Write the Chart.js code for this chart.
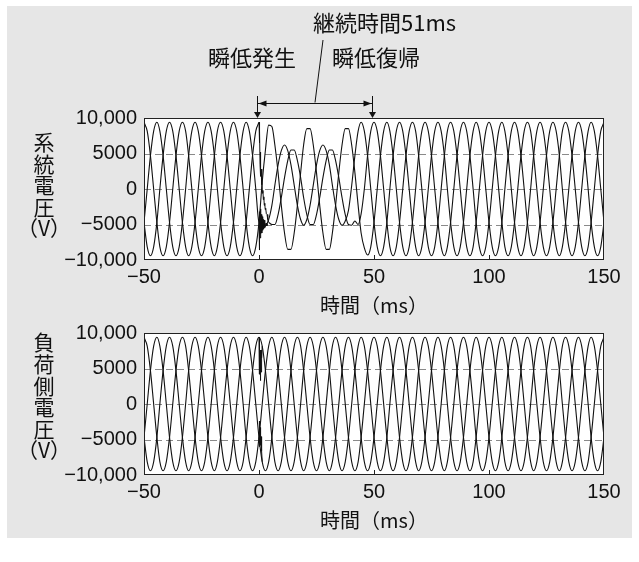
<!DOCTYPE html>
<html>
<head>
<meta charset="utf-8">
<script src="https://cdn.jsdelivr.net/npm/chart.js@4.4.1/dist/chart.umd.min.js"></script>
<style>
  html, body { margin: 0; padding: 0; background: #fff; }
  #page { position: relative; width: 639px; height: 562px; overflow: hidden; }
  #panel { position: absolute; left: 7px; top: 6px; width: 625px; height: 532px; background: #e6e6e6; }
  canvas { position: absolute; left: 0; }
  #sysChart { top: 0; }
  #loadChart { top: 290px; }
</style>
</head>
<body>
<div id="page">
  <div id="panel"></div>
  <canvas id="sysChart" width="639" height="320"></canvas>
  <canvas id="loadChart" width="639" height="245"></canvas>
</div>
<script>
// sample times (ms), 12 samples per 60 Hz cycle
const timeMs = [
  -50, -48.6, -47.2, -45.8, -44.4, -43.1, -41.7, -40.3, -38.9, -37.5, -36.1, -34.7,
  -33.3, -31.9, -30.6, -29.2, -27.8, -26.4, -25, -23.6, -22.2, -20.8, -19.4, -18.1,
  -16.7, -15.3, -13.9, -12.5, -11.1, -9.7, -8.3, -6.9, -5.6, -4.2, -2.8, -1.4,
  0, 1.4, 2.8, 4.2, 5.6, 6.9, 8.3, 9.7, 11.1, 12.5, 13.9, 15.3,
  16.7, 18.1, 19.4, 20.8, 22.2, 23.6, 25, 26.4, 27.8, 29.2, 30.6, 31.9,
  33.3, 34.7, 36.1, 37.5, 38.9, 40.3, 41.7, 43.1, 44.4, 45.8, 47.2, 48.6,
  50, 51.4, 52.8, 54.2, 55.6, 56.9, 58.3, 59.7, 61.1, 62.5, 63.9, 65.3,
  66.7, 68.1, 69.4, 70.8, 72.2, 73.6, 75, 76.4, 77.8, 79.2, 80.6, 81.9,
  83.3, 84.7, 86.1, 87.5, 88.9, 90.3, 91.7, 93.1, 94.4, 95.8, 97.2, 98.6,
  100, 101.4, 102.8, 104.2, 105.6, 106.9, 108.3, 109.7, 111.1, 112.5, 113.9, 115.3,
  116.7, 118.1, 119.4, 120.8, 122.2, 123.6, 125, 126.4, 127.8, 129.2, 130.6, 131.9,
  133.3, 134.7, 136.1, 137.5, 138.9, 140.3, 141.7, 143.1, 144.4, 145.8, 147.2, 148.6,
  150
];

// system side voltage (V), three phases
const sysA = [
  9400, 8140, 4700, 0, -4700, -8140, -9400, -8140, -4700, 0, 4700, 8140,
  9400, 8140, 4700, 0, -4700, -8140, -9400, -8140, -4700, 0, 4700, 8140,
  9400, 8140, 4700, 0, -4700, -8140, -9400, -8140, -4700, 0, 4700, 8140,
  9400, null, null, -4700, -5000, -5000, -3600, -1200, 1600, 4000, 5500, 5500,
  4000, 1600, -1200, -3600, -5000, -5000, -3600, -1200, 1600, 4000, 5500, 5500,
  4000, 1600, -1200, -3600, -5000, -5100, -4500, -5000, -3500, 0, 4700, 8140,
  9400, 8140, 4700, 0, -4700, -8140, -9400, -8140, -4700, 0, 4700, 8140,
  9400, 8140, 4700, 0, -4700, -8140, -9400, -8140, -4700, 0, 4700, 8140,
  9400, 8140, 4700, 0, -4700, -8140, -9400, -8140, -4700, 0, 4700, 8140,
  9400, 8140, 4700, 0, -4700, -8140, -9400, -8140, -4700, 0, 4700, 8140,
  9400, 8140, 4700, 0, -4700, -8140, -9400, -8140, -4700, 0, 4700, 8140,
  9400, 8140, 4700, 0, -4700, -8140, -9400, -8140, -4700, 0, 4700, 8140,
  9400
];
const sysB = [
  -4700, 0, 4700, 8140, 9400, 8140, 4700, 0, -4700, -8140, -9400, -8140,
  -4700, 0, 4700, 8140, 9400, 8140, 4700, 0, -4700, -8140, -9400, -8140,
  -4700, 0, 4700, 8140, 9400, 8140, 4700, 0, -4700, -8140, -9400, -8140,
  -4700, 1000, 5500, 9000, 8800, 6200, 2300, -2300, -6200, -8500, -8500, -6200,
  -2300, 2300, 6200, 8500, 8500, 6200, 2300, -2300, -6200, -8500, -8500, -6200,
  -2300, 2300, 6200, 8500, 8500, 6200, 2300, -2300, -6200, -8300, -9300, -8140,
  -4700, 0, 4700, 8140, 9400, 8140, 4700, 0, -4700, -8140, -9400, -8140,
  -4700, 0, 4700, 8140, 9400, 8140, 4700, 0, -4700, -8140, -9400, -8140,
  -4700, 0, 4700, 8140, 9400, 8140, 4700, 0, -4700, -8140, -9400, -8140,
  -4700, 0, 4700, 8140, 9400, 8140, 4700, 0, -4700, -8140, -9400, -8140,
  -4700, 0, 4700, 8140, 9400, 8140, 4700, 0, -4700, -8140, -9400, -8140,
  -4700, 0, 4700, 8140, 9400, 8140, 4700, 0, -4700, -8140, -9400, -8140,
  -4700
];
const sysC = [
  -4700, -8140, -9400, -8140, -4700, 0, 4700, 8140, 9400, 8140, 4700, 0,
  -4700, -8140, -9400, -8140, -4700, 0, 4700, 8140, 9400, 8140, 4700, 0,
  -4700, -8140, -9400, -8140, -4700, 0, 4700, 8140, 9400, 8140, 4700, 0,
  -4700, -5000, -5100, -4300, -2300, 550, 3400, 5400, 6200, 5400, 3400, 550,
  -2300, -4300, -5100, -4300, -2300, 550, 3400, 5400, 6200, 5400, 3400, 550,
  -2300, -4300, -5100, -4500, -3000, 500, 4700, 8140, 9400, 8140, 4700, 0,
  -4700, -8140, -9400, -8140, -4700, 0, 4700, 8140, 9400, 8140, 4700, 0,
  -4700, -8140, -9400, -8140, -4700, 0, 4700, 8140, 9400, 8140, 4700, 0,
  -4700, -8140, -9400, -8140, -4700, 0, 4700, 8140, 9400, 8140, 4700, 0,
  -4700, -8140, -9400, -8140, -4700, 0, 4700, 8140, 9400, 8140, 4700, 0,
  -4700, -8140, -9400, -8140, -4700, 0, 4700, 8140, 9400, 8140, 4700, 0,
  -4700, -8140, -9400, -8140, -4700, 0, 4700, 8140, 9400, 8140, 4700, 0,
  -4700
];

// switching transient right after the sag starts (system side)
const sysBurstTimeA = [0, 0.15, 0.3, 0.45, 0.6, 0.75, 0.9, 1.1, 1.3, 1.5, 1.7, 1.9, 2.1, 2.3, 2.5, 2.7, 2.9, 3.2, 3.5, 3.8, 4.2];
const sysBurstA = [9400, 6500, 8200, 3500, 5200, 1800, 2800, 600, 1200, -600, -200, -1500, -1100, -2300, -2000, -2900, -2700, -3500, -3600, -4300, -4700];
const sysBurstTimeC = [0, 0.1, 0.2, 0.35, 0.5, 0.65, 0.8, 1.0, 1.2, 1.4, 1.6, 1.8, 2.0, 2.2, 2.4, 2.6, 2.8, 3.1, 3.4, 3.7];
const sysBurstC = [-4700, -6800, -8600, -3200, -6900, -2800, -6300, -3600, -6200, -3900, -5800, -4300, -5600, -4400, -5500, -4700, -5300, -4800, -5200, -4900];

// load side voltage (V)
const loadA = sysA.slice(0, 36).concat([
  9400, 8140, 4700, 0, -4700, -8140, -9400, -8140, -4700, 0, 4700, 8140,
  9400, 8140, 4700, 0, -4700, -8140, -9400, -8140, -4700, 0, 4700, 8140,
  9400, 8140, 4700, 0, -4700, -8140, -9400, -8140, -4700, 0, 4700, 8140
]).concat(sysA.slice(72));
const loadB = sysB.slice(0, 36).concat([
  -4700, 0, 4700, 8140, 9400, 8140, 4700, 0, -4700, -8140, -9400, -8140,
  -4700, 0, 4700, 8140, 9400, 8140, 4700, 0, -4700, -8140, -9400, -8140,
  -4700, 0, 4700, 8140, 9400, 8140, 4700, 0, -4700, -8140, -9400, -8140
]).concat(sysB.slice(72));
const loadC = sysC.slice(0, 36).concat([
  -4700, -8140, -9400, -8140, -4700, 0, 4700, 8140, 9400, 8140, 4700, 0,
  -4700, -8140, -9400, -8140, -4700, 0, 4700, 8140, 9400, 8140, 4700, 0,
  -4700, -8140, -9400, -8140, -4700, 0, 4700, 8140, 9400, 8140, 4700, 0
]).concat(sysC.slice(72));
const loadBurstTimeA = [0, 0.1, 0.2, 0.3, 0.45, 0.6, 0.75, 0.9, 1.05, 1.2, 1.4];
const loadBurstA = [9400, 6000, 8600, 4200, 7600, 3300, 7000, 4500, 7600, 6500, 8140];
const loadBurstTimeC = [0, 0.1, 0.2, 0.3, 0.45, 0.6, 0.75, 0.9, 1.05, 1.2, 1.4];
const loadBurstC = [-4700, -2400, -6000, -2600, -5800, -3300, -5600, -4600, -6600, -6600, -8140];

const xTicks = [-50, 0, 50, 100, 150];
const yTicks = [-10000, -5000, 0, 5000, 10000];
const gridValues = [5000, 0, -5000];
const yTickText = { '10000': '10,000', '5000': '5000', '0': '0', '-5000': '\u22125000', '-10000': '\u221210,000' };
const sysTitle = ['系', '統', '電', '圧', '（V）'];
const loadTitle = ['負', '荷', '側', '電', '圧', '（V）'];
const sagStartMs = -1;
const sagEndMs = 49;

const numFont = '"Liberation Sans", Arial, sans-serif';
const jpFont = '"Noto Sans CJK JP", sans-serif';

const pts = (t, v) => t.map((x, i) => ({ x: x, y: v[i] }));

const wave = (t, v) => ({
  data: pts(t, v),
  borderColor: '#111',
  borderWidth: 1.1,
  pointRadius: 0,
  fill: false,
  cubicInterpolationMode: 'monotone'
});

const burst = (t, v) => ({
  data: pts(t, v),
  borderColor: '#111',
  borderWidth: 1,
  pointRadius: 0,
  fill: false,
  tension: 0
});

// white plot area, dashed grid, frame and inner ticks
const framePlugin = {
  id: 'frame',
  beforeDatasetsDraw(chart) {
    const { ctx, chartArea: a, scales: { y } } = chart;
    ctx.save();
    ctx.fillStyle = '#fff';
    ctx.fillRect(a.left, a.top, a.right - a.left, a.bottom - a.top);
    ctx.strokeStyle = '#8a8a8a';
    ctx.lineWidth = 1;
    ctx.setLineDash([7, 4]);
    gridValues.forEach(v => {
      const py = Math.round(y.getPixelForValue(v)) + 0.5;
      ctx.beginPath();
      ctx.moveTo(a.left, py);
      ctx.lineTo(a.right, py);
      ctx.stroke();
    });
    ctx.restore();
  },
  afterDatasetsDraw(chart) {
    const { ctx, chartArea: a, scales: { x } } = chart;
    ctx.save();
    ctx.strokeStyle = '#222';
    ctx.lineWidth = 1;
    ctx.strokeRect(a.left + 0.5, a.top + 0.5, a.right - a.left - 1, a.bottom - a.top - 1);
    xTicks.slice(1, -1).forEach(v => {
      const px = Math.round(x.getPixelForValue(v)) + 0.5;
      ctx.beginPath();
      ctx.moveTo(px, a.bottom);
      ctx.lineTo(px, a.bottom - 5);
      ctx.stroke();
    });
    ctx.restore();
  }
};

// stacked vertical axis title
const yTitlePlugin = {
  id: 'yTitle',
  afterDraw(chart, args, opts) {
    const ctx = chart.ctx;
    ctx.save();
    ctx.font = '21px ' + jpFont;
    ctx.fillStyle = '#111';
    ctx.textAlign = 'center';
    ctx.textBaseline = 'middle';
    opts.lines.forEach((s, i) => ctx.fillText(s, opts.x, opts.y + i * opts.step));
    ctx.restore();
  }
};

// sag duration markers above the upper chart
const sagPlugin = {
  id: 'sag',
  afterDraw(chart) {
    const { ctx, chartArea: a, scales: { x } } = chart;
    const x1 = Math.round(x.getPixelForValue(sagStartMs)) + 0.5;
    const x2 = Math.round(x.getPixelForValue(sagEndMs)) + 0.5;
    const ay = 103.5;
    ctx.save();
    ctx.strokeStyle = '#111';
    ctx.fillStyle = '#111';
    ctx.lineWidth = 1;
    [x1, x2].forEach(px => {
      ctx.beginPath();
      ctx.moveTo(px, 96);
      ctx.lineTo(px, a.top - 4);
      ctx.stroke();
      ctx.beginPath();
      ctx.moveTo(px - 3.5, a.top - 6);
      ctx.lineTo(px + 3.5, a.top - 6);
      ctx.lineTo(px, a.top);
      ctx.closePath();
      ctx.fill();
    });
    ctx.beginPath();
    ctx.moveTo(x1, ay);
    ctx.lineTo(x2, ay);
    ctx.stroke();
    ctx.beginPath();
    ctx.moveTo(x1 + 1, ay);
    ctx.lineTo(x1 + 9, ay - 3);
    ctx.lineTo(x1 + 9, ay + 3);
    ctx.closePath();
    ctx.fill();
    ctx.beginPath();
    ctx.moveTo(x2 - 1, ay);
    ctx.lineTo(x2 - 9, ay - 3);
    ctx.lineTo(x2 - 9, ay + 3);
    ctx.closePath();
    ctx.fill();
    const mid = (x1 + x2) / 2;
    ctx.beginPath();
    ctx.moveTo(mid + 8, 40);
    ctx.lineTo(mid, ay - 1);
    ctx.stroke();
    ctx.font = '22px ' + jpFont;
    ctx.textBaseline = 'middle';
    ctx.textAlign = 'left';
    ctx.fillText('継続時間51ms', 313, 23);
    ctx.fillText('瞬低発生', 208, 58);
    ctx.fillText('瞬低復帰', 332, 58);
    ctx.restore();
  }
};

function makeChart(canvasId, datasets, padTop, title) {
  return new Chart(document.getElementById(canvasId), {
    type: 'line',
    data: { datasets: datasets },
    plugins: canvasId === 'sysChart' ? [framePlugin, yTitlePlugin, sagPlugin] : [framePlugin, yTitlePlugin],
    options: {
      responsive: false,
      animation: false,
      events: [],
      layout: { padding: { top: padTop, left: 44, right: 35, bottom: 0 } },
      plugins: {
        legend: { display: false },
        tooltip: { enabled: false },
        yTitle: title
      },
      scales: {
        x: {
          type: 'linear',
          min: -50,
          max: 150,
          afterBuildTicks: s => { s.ticks = xTicks.map(v => ({ value: v })); },
          afterFit: s => { s.height = 60; },
          grid: { display: false, drawTicks: false },
          border: { display: false },
          ticks: {
            autoSkip: false,
            maxRotation: 0,
            padding: 5,
            color: '#111',
            font: { family: numFont, size: 20 },
            callback: v => (v < 0 ? '\u2212' + Math.abs(v) : String(v))
          },
          title: {
            display: true,
            text: '時間（ms）',
            color: '#111',
            font: { family: jpFont, size: 20 },
            padding: { top: 0, bottom: 3 }
          }
        },
        y: {
          type: 'linear',
          min: -10000,
          max: 10000,
          afterBuildTicks: s => { s.ticks = yTicks.map(v => ({ value: v })); },
          afterFit: s => { s.width = 100; },
          grid: { display: false, drawTicks: false },
          border: { display: false },
          ticks: {
            padding: 7,
            color: '#111',
            font: { family: numFont, size: 20 },
            callback: v => yTickText[String(v)]
          }
        }
      }
    }
  });
}

makeChart('sysChart', [
  wave(timeMs, sysA), wave(timeMs, sysB), wave(timeMs, sysC),
  burst(sysBurstTimeA, sysBurstA), burst(sysBurstTimeC, sysBurstC)
], 118, { lines: sysTitle, x: 44, y: 142.5, step: 21.5 });

makeChart('loadChart', [
  wave(timeMs, loadA), wave(timeMs, loadB), wave(timeMs, loadC),
  burst(loadBurstTimeA, loadBurstA), burst(loadBurstTimeC, loadBurstC)
], 43, { lines: loadTitle, x: 44, y: 52.5, step: 21.6 });
</script>
</body>
</html>
